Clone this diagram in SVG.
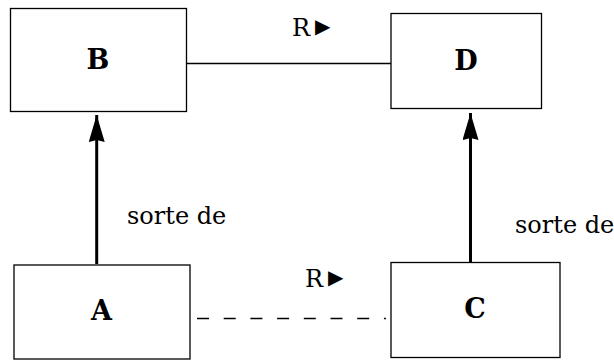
<svg xmlns="http://www.w3.org/2000/svg" width="614" height="360" viewBox="0 0 614 360">
  <style>
    .box { fill: #fff; stroke: #000; stroke-width: 1.3; }
    .name { font-family: "DejaVu Serif", "Liberation Serif", serif; font-weight: bold; font-size: 27px; text-anchor: middle; fill: #000; }
    .lbl { font-family: "DejaVu Serif", "Liberation Serif", serif; font-size: 24px; fill: #000; }
    .tri { font-family: "DejaVu Sans", sans-serif; font-size: 20px; }
    .assoc { stroke: #000; stroke-width: 1.3; fill: none; }
    .isa { stroke: #000; stroke-width: 3; fill: none; marker-end: url(#head); }
  </style>
  <defs>
    <!-- filled arrowhead for the "sorte de" links -->
    <marker id="head" viewBox="0 0 27 16" refX="27" refY="8" markerWidth="27" markerHeight="16" markerUnits="userSpaceOnUse" orient="auto">
      <path d="M0,0 L27,8 L0,16 L2,8 Z"/>
    </marker>
  </defs>

  <g id="connectors">
    <line class="assoc" x1="186" y1="63.5" x2="391" y2="63.5"/>
    <line class="assoc" x1="197" y1="318.5" x2="386" y2="318.5" stroke-dasharray="12 14.7"/>
    <line class="isa" x1="96.7" y1="264" x2="96.7" y2="115"/>
    <line class="isa" x1="470.5" y1="262" x2="470.5" y2="113"/>
    <text class="lbl" x="292" y="36">R<tspan class="tri" dx="5" dy="-3">▶</tspan></text>
    <text class="lbl" x="305" y="287">R<tspan class="tri" dx="5" dy="-3">▶</tspan></text>
    <text class="lbl" x="127" y="223.5">sorte de</text>
    <text class="lbl" x="515" y="232.5">sorte de</text>
  </g>

  <g id="B">
    <rect class="box" x="10.5" y="8.5" width="176" height="103"/>
    <text class="name" x="98" y="68.5">B</text>
  </g>
  <g id="D">
    <rect class="box" x="391" y="13.5" width="150.5" height="95"/>
    <text class="name" x="466" y="69.5">D</text>
  </g>
  <g id="A">
    <rect class="box" x="14" y="265" width="176" height="94"/>
    <text class="name" x="101.5" y="320">A</text>
  </g>
  <g id="C">
    <rect class="box" x="391" y="262.5" width="169" height="95"/>
    <text class="name" x="475" y="318">C</text>
  </g>
</svg>
